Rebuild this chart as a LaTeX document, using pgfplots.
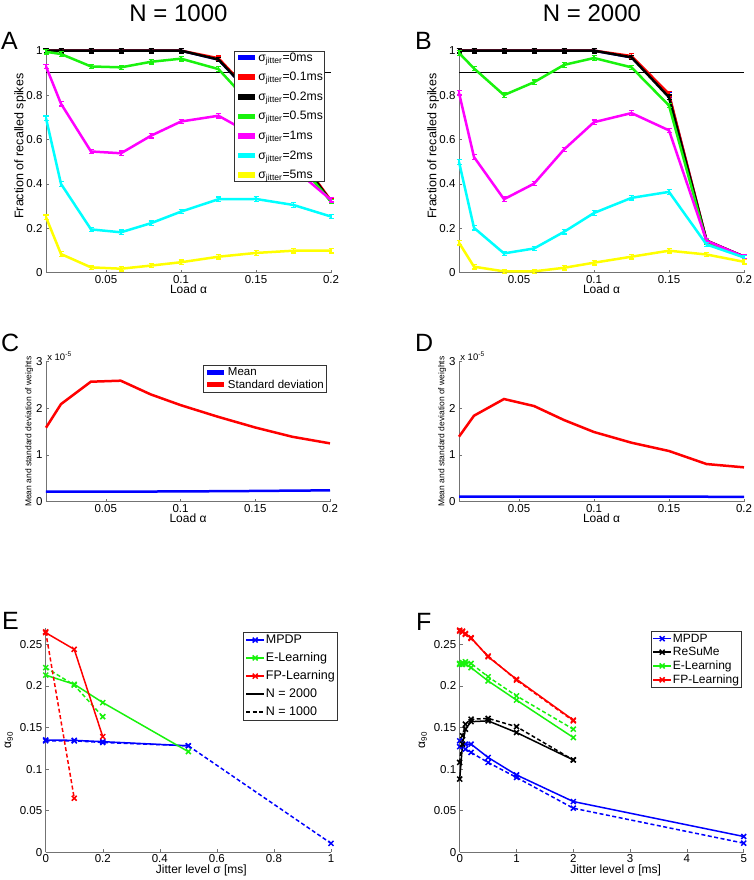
\documentclass[border=0pt]{standalone}
\usepackage{fontspec}
\setmainfont{Liberation Sans}
\usepackage{pgfplots}
\pgfplotsset{compat=1.18}

\definecolor{mblue}{rgb}{0,0,1}
\definecolor{mred}{rgb}{1,0,0}
\definecolor{mgreen}{rgb}{0.1,0.95,0.05}
\definecolor{mmag}{rgb}{1,0,1}
\definecolor{mcyan}{rgb}{0,1,1}
\definecolor{myel}{rgb}{1,1,0}
\definecolor{axgray}{rgb}{0.45,0.45,0.45}

\pgfplotsset{
  panel/.style={
    scale only axis,
    axis lines*=left,
    axis line style={-, axgray, line width=0.6pt},
    tick align=inside,
    major tick length=3pt,
    tick style={axgray, line width=0.5pt},
    tick label style={font=\fontsize{11.5}{12}\selectfont},
    xticklabel style={yshift=1pt},
    label style={font=\fontsize{12}{13}\selectfont},
    xlabel style={yshift=5pt},
    /pgf/number format/assume math mode=true,
    /pgf/number format/fixed,
    /pgf/number format/precision=3,
    scaled ticks=false,
    clip=false,
    legend cell align=left,
    legend style={draw=black!80, line width=0.5pt, fill=white,
      font=\fontsize{11.5}{12}\selectfont, inner sep=1.5pt,
      nodes={inner sep=1pt}},
  },
  fatline/.style={legend image code/.code={\draw[##1, line width=5.5pt] (0pt,0pt) -- (17pt,0pt);}},
  markline/.style={legend image code/.code={\draw[mark repeat=2, mark phase=2, ##1] plot coordinates {(0pt,0pt) (9pt,0pt) (18pt,0pt)};}},
  rec/.style={line width=2.5pt, mark=none,
    error bars/.cd, y dir=both, y fixed=0.01,
    error bar style={line width=1.2pt},
    error mark options={rotate=90, mark size=2.5pt, line width=1.2pt}},
  jit/.style={line width=1.5pt, mark=x, mark size=3.5pt, mark options={solid, line width=1.5pt}},
  dsh/.style={dash pattern=on 4pt off 2.5pt},
}

\begin{document}
\begin{tikzpicture}
\path[use as bounding box] (0pt,0pt) rectangle (754pt,880pt);

% titles and panel letters
\node[font=\fontsize{24}{26}\selectfont, anchor=base] at (178.5pt,858.5pt) {N = 1000};
\node[font=\fontsize{24}{26}\selectfont, anchor=base] at (592pt,858.5pt) {N = 2000};
\node[font=\fontsize{25}{27}\selectfont, anchor=base west, inner sep=0pt] at (1pt,830pt) {A};
\node[font=\fontsize{25}{27}\selectfont, anchor=base west, inner sep=0pt] at (415pt,830pt) {B};
\node[font=\fontsize{25}{27}\selectfont, anchor=base west, inner sep=0pt] at (1pt,528.5pt) {C};
\node[font=\fontsize{25}{27}\selectfont, anchor=base west, inner sep=0pt] at (415pt,528.5pt) {D};
\node[font=\fontsize{25}{27}\selectfont, anchor=base west, inner sep=0pt] at (2pt,250pt) {E};
\node[font=\fontsize{25}{27}\selectfont, anchor=base west, inner sep=0pt] at (416pt,249.5pt) {F};

% ---------- A ----------
\begin{axis}[panel, fatline, at={(46pt,607.3pt)}, anchor=south west,
  width=285pt, height=222pt,
  xmin=0.01, xmax=0.2, ymin=0, ymax=1,
  xtick={0.05,0.1,0.15,0.2}, ytick={0,0.2,0.4,0.6,0.8,1},
  xlabel={Load α}, ylabel={Fraction of recalled spikes},
  ylabel style={font=\fontsize{12.5}{13}\selectfont, at={(axis description cs:-0.091,0.57)}, anchor=center},
  legend style={at={(0.978,1)}, anchor=north east, row sep=8.4pt,
    font=\fontsize{12.2}{13}\selectfont, inner sep=1pt, nodes={inner sep=0.6pt}}]
\addplot[black, line width=0.8pt, forget plot] coordinates {(0.01,0.9) (0.2,0.9)};
\addplot[mblue, rec] coordinates {(0.01,1) (0.02,1) (0.04,1) (0.06,1) (0.08,1) (0.1,1) (0.125,0.96) (0.15,0.78) (0.175,0.55) (0.2,0.32)};
\addplot[mred, rec] coordinates {(0.01,1) (0.02,1) (0.04,1) (0.06,1) (0.08,1) (0.1,1) (0.125,0.966) (0.15,0.785) (0.175,0.555) (0.2,0.325)};
\addplot[black, rec] coordinates {(0.01,1) (0.02,1) (0.04,1) (0.06,1) (0.08,1) (0.1,1) (0.125,0.96) (0.15,0.78) (0.175,0.55) (0.2,0.32)};
\addplot[mgreen, rec] coordinates {(0.01,0.995) (0.02,0.985) (0.04,0.929) (0.06,0.925) (0.08,0.95) (0.1,0.964) (0.125,0.917) (0.15,0.733) (0.175,0.52) (0.2,0.32)};
\addplot[mmag, rec] coordinates {(0.01,0.929) (0.02,0.761) (0.04,0.546) (0.06,0.538) (0.08,0.617) (0.1,0.681) (0.125,0.707) (0.15,0.613) (0.175,0.47) (0.2,0.328)};
\addplot[mcyan, rec] coordinates {(0.01,0.696) (0.02,0.40) (0.04,0.195) (0.06,0.182) (0.08,0.223) (0.1,0.275) (0.125,0.331) (0.15,0.332) (0.175,0.305) (0.2,0.253)};
\addplot[myel, rec] coordinates {(0.01,0.25) (0.02,0.084) (0.04,0.024) (0.06,0.018) (0.08,0.032) (0.1,0.047) (0.125,0.072) (0.15,0.089) (0.175,0.099) (0.2,0.099)};
\legend{σ\textsubscript{jitter}=0ms, σ\textsubscript{jitter}=0.1ms, σ\textsubscript{jitter}=0.2ms, σ\textsubscript{jitter}=0.5ms, σ\textsubscript{jitter}=1ms, σ\textsubscript{jitter}=2ms, σ\textsubscript{jitter}=5ms}
\end{axis}

% ---------- B ----------
\begin{axis}[panel, at={(459pt,607.3pt)}, anchor=south west,
  width=285pt, height=222pt,
  xmin=0.01, xmax=0.2, ymin=0, ymax=1,
  xtick={0.05,0.1,0.15,0.2}, ytick={0,0.2,0.4,0.6,0.8,1},
  xlabel={Load α}, ylabel={Fraction of recalled spikes},
  ylabel style={font=\fontsize{12.5}{13}\selectfont, at={(axis description cs:-0.091,0.57)}, anchor=center}]
\addplot[black, line width=0.8pt] coordinates {(0.01,0.9) (0.2,0.9)};
\addplot[mblue, rec] coordinates {(0.01,1) (0.02,1) (0.04,1) (0.06,1) (0.08,1) (0.1,1) (0.125,0.97) (0.15,0.80) (0.175,0.144) (0.2,0.072)};
\addplot[mred, rec] coordinates {(0.01,1) (0.02,1) (0.04,1) (0.06,1) (0.08,1) (0.1,1) (0.125,0.976) (0.15,0.805) (0.175,0.145) (0.2,0.072)};
\addplot[black, rec] coordinates {(0.01,1) (0.02,1) (0.04,1) (0.06,1) (0.08,1) (0.1,1) (0.125,0.97) (0.15,0.79) (0.175,0.144) (0.2,0.072)};
\addplot[mgreen, rec] coordinates {(0.01,0.99) (0.02,0.92) (0.04,0.80) (0.06,0.858) (0.08,0.936) (0.1,0.967) (0.125,0.925) (0.15,0.753) (0.175,0.139) (0.2,0.069)};
\addplot[mmag, rec] coordinates {(0.01,0.81) (0.02,0.521) (0.04,0.331) (0.06,0.401) (0.08,0.555) (0.1,0.678) (0.125,0.719) (0.15,0.641) (0.175,0.144) (0.2,0.072)};
\addplot[mcyan, rec] coordinates {(0.01,0.499) (0.02,0.202) (0.04,0.087) (0.06,0.109) (0.08,0.184) (0.1,0.269) (0.125,0.337) (0.15,0.364) (0.175,0.127) (0.2,0.069)};
\addplot[myel, rec] coordinates {(0.01,0.135) (0.02,0.027) (0.04,0.006) (0.06,0.006) (0.08,0.022) (0.1,0.045) (0.125,0.072) (0.15,0.099) (0.175,0.082) (0.2,0.049)};
\end{axis}

% ---------- C ----------
\begin{axis}[panel, fatline, at={(46pt,378.3pt)}, anchor=south west,
  width=284pt, height=140pt,
  xmin=0.01, xmax=0.2, ymin=0, ymax=3,
  xtick={0.05,0.1,0.15,0.2}, ytick={0,1,2,3},
  xlabel={Load α}, ylabel={Mean and standard deviation of weights},
  ylabel style={font=\fontsize{8.5}{9}\selectfont, at={(axis description cs:-0.059,0.5)}, anchor=center},
  legend style={at={(0.988,0.976)}, anchor=north east, row sep=0.5pt}]
\addplot[mblue, line width=2.5pt] coordinates {(0.01,0.214) (0.02,0.214) (0.04,0.215) (0.06,0.216) (0.08,0.218) (0.1,0.22) (0.125,0.225) (0.15,0.23) (0.175,0.237) (0.2,0.243)};
\addplot[mred, line width=2.5pt] coordinates {(0.01,1.586) (0.02,2.09) (0.04,2.571) (0.06,2.593) (0.08,2.30) (0.1,2.07) (0.125,1.82) (0.15,1.59) (0.175,1.39) (0.2,1.25)};
\legend{Mean, Standard deviation}
\node[font=\fontsize{9.5}{10}\selectfont, anchor=base west, inner sep=0pt] at (axis description cs:0.004,1.01) {x 10\textsuperscript{-5}};
\end{axis}

% ---------- D ----------
\begin{axis}[panel, at={(459pt,378.3pt)}, anchor=south west,
  width=285pt, height=140pt,
  xmin=0.01, xmax=0.2, ymin=0, ymax=3,
  xtick={0.05,0.1,0.15,0.2}, ytick={0,1,2,3},
  xlabel={Load α}, ylabel={Mean and standard deviation of weights},
  ylabel style={font=\fontsize{8.5}{9}\selectfont, at={(axis description cs:-0.059,0.5)}, anchor=center}]
\addplot[mblue, line width=2.5pt] coordinates {(0.01,0.107) (0.02,0.107) (0.04,0.107) (0.06,0.108) (0.08,0.108) (0.1,0.11) (0.125,0.11) (0.15,0.11) (0.175,0.106) (0.2,0.105)};
\addplot[mred, line width=2.5pt] coordinates {(0.01,1.393) (0.02,1.843) (0.04,2.2) (0.06,2.05) (0.08,1.75) (0.1,1.493) (0.125,1.264) (0.15,1.086) (0.175,0.807) (0.2,0.736)};
\node[font=\fontsize{9.5}{10}\selectfont, anchor=base west, inner sep=0pt] at (axis description cs:0.004,1.01) {x 10\textsuperscript{-5}};
\end{axis}

% ---------- E ----------
\begin{axis}[panel, markline, at={(45.7pt,27.7pt)}, anchor=south west,
  width=285.3pt, height=224.6pt,
  xmin=0, xmax=1, ymin=0, ymax=0.27,
  xtick={0,0.2,0.4,0.6,0.8,1}, ytick={0,0.05,0.1,0.15,0.2,0.25},
  xlabel={Jitter level σ [ms]}, ylabel={α\textsubscript{90}},
  xlabel style={xshift=13pt},
  legend style={at={(1.0245,0.982)}, anchor=north east, row sep=5.6pt,
    font=\fontsize{12.5}{13}\selectfont, inner sep=2pt}]
\addlegendimage{mblue, jit}\addlegendentry{MPDP}
\addlegendimage{mgreen, jit}\addlegendentry{E-Learning}
\addlegendimage{mred, jit}\addlegendentry{FP-Learning}
\addlegendimage{black, line width=1.5pt, mark=none}\addlegendentry{N = 2000}
\addlegendimage{black, line width=1.5pt, mark=none, dsh}\addlegendentry{N = 1000}
\addplot[mblue, jit, forget plot] coordinates {(0,0.135) (0.1,0.1346) (0.2,0.133) (0.5,0.128)};
\addplot[mblue, jit, dsh, forget plot] coordinates {(0,0.134) (0.1,0.134) (0.2,0.132) (0.5,0.128) (1,0.0108)};
\addplot[mgreen, jit, forget plot] coordinates {(0,0.213) (0.1,0.202) (0.2,0.180) (0.5,0.121)};
\addplot[mgreen, jit, dsh, forget plot] coordinates {(0,0.222) (0.1,0.201) (0.2,0.163)};
\addplot[mred, jit, forget plot] coordinates {(0,0.264) (0.1,0.244) (0.2,0.139)};
\addplot[mred, jit, dsh, forget plot] coordinates {(0,0.265) (0.1,0.065)};
\end{axis}

% ---------- F ----------
\begin{axis}[panel, markline, at={(459.7pt,27.7pt)}, anchor=south west,
  width=284pt, height=224.6pt,
  xmin=0, xmax=5, ymin=0, ymax=0.27,
  xtick={0,1,2,3,4,5}, ytick={0,0.05,0.1,0.15,0.2,0.25},
  xlabel={Jitter level σ [ms]}, ylabel={α\textsubscript{90}},
  xlabel style={xshift=14pt},
  legend style={at={(0.993,0.985)}, anchor=north east, row sep=1.7pt,
    font=\fontsize{12}{12.5}\selectfont}]
\addlegendimage{mblue, jit}\addlegendentry{MPDP}
\addlegendimage{black, jit}\addlegendentry{ReSuMe}
\addlegendimage{mgreen, jit}\addlegendentry{E-Learning}
\addlegendimage{mred, jit}\addlegendentry{FP-Learning}
\addplot[mblue, jit, forget plot] coordinates {(0,0.134) (0.1,0.130) (0.2,0.130) (0.5,0.114) (1,0.093) (2,0.061) (5,0.019)};
\addplot[mblue, jit, dsh, forget plot] coordinates {(0,0.127) (0.1,0.124) (0.2,0.120) (0.5,0.108) (1,0.090) (2,0.053) (5,0.011)};
\addplot[black, jit, forget plot] coordinates {(0,0.088) (0.05,0.130) (0.1,0.148) (0.2,0.157) (0.5,0.158) (1,0.144) (2,0.111)};
\addplot[black, jit, dsh, forget plot] coordinates {(0,0.108) (0.05,0.140) (0.1,0.154) (0.2,0.160) (0.5,0.161) (1,0.151) (2,0.111)};
\addplot[mgreen, jit, forget plot] coordinates {(0,0.226) (0.05,0.226) (0.1,0.226) (0.2,0.222) (0.5,0.206) (1,0.183) (2,0.138)};
\addplot[mgreen, jit, dsh, forget plot] coordinates {(0,0.227) (0.05,0.228) (0.1,0.229) (0.2,0.227) (0.5,0.211) (1,0.188) (2,0.148)};
\addplot[mred, jit, forget plot] coordinates {(0,0.266) (0.05,0.265) (0.1,0.263) (0.2,0.258) (0.5,0.235) (1,0.208) (2,0.159)};
\addplot[mred, jit, dsh, forget plot] coordinates {(0,0.267) (0.05,0.266) (0.1,0.262) (0.2,0.257) (0.5,0.236) (1,0.207) (2,0.158)};
\end{axis}
\end{tikzpicture}
\end{document}
